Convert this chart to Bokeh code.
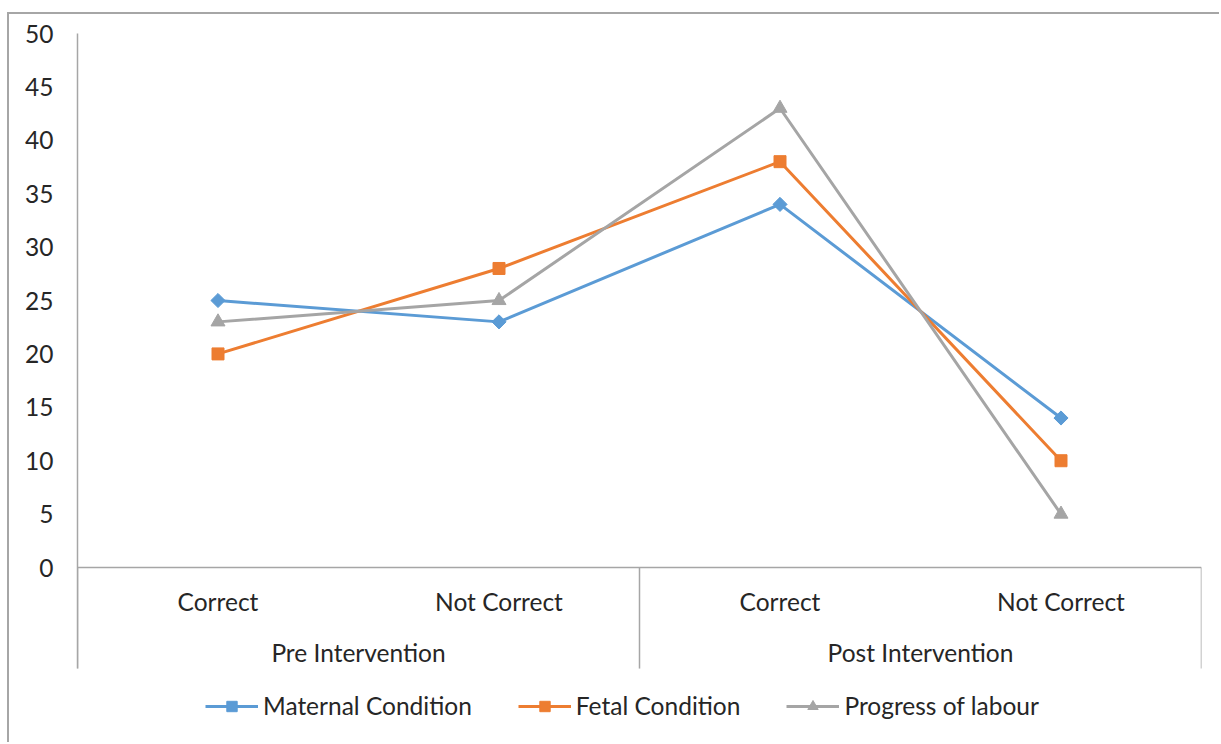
from bokeh.plotting import figure
from bokeh.models import (FactorRange, Range1d, FixedTicker, Legend, LegendItem,
                          CategoricalAxis)
from bokeh.embed import file_html
from bokeh.resources import INLINE

# ---- data ----
groups = ["Pre Intervention", "Post Intervention"]
answers = ["Correct", "Not Correct"]
maternal = [25, 23, 34, 14]
fetal = [20, 28, 38, 10]
progress = [23, 25, 43, 5]
y_ticks = [0, 5, 10, 15, 20, 25, 30, 35, 40, 45, 50]
series_names = ["Maternal Condition", "Fetal Condition", "Progress of labour"]

factors = [(g, a) for g in groups for a in answers]

FONT = "Lato"
FS = "24.5px"
TEXT = "#262626"
AXIS = "#A6A6A6"
COLORS = ["#5B9BD5", "#ED7D31", "#A5A5A5"]

# depth of the category-label area below zero (in data units)
label_depth = 9.46

p = figure(
    x_range=FactorRange(*factors, factor_padding=0, group_padding=0, range_padding=0),
    y_range=Range1d(-16.57, 50),
    width=1212, height=730,
    output_backend="svg", toolbar_location=None,
    x_axis_location=None,
    min_border_left=68, min_border_right=20, min_border_top=19, min_border_bottom=0,
)
p.styles = {"border-left": "2px solid #A6A6A6", "border-top": "2px solid #A6A6A6",
            "margin-left": "7px", "margin-top": "12px"}
p.background_fill_color = "white"
p.border_fill_color = "white"
p.outline_line_color = None
for g in p.grid:
    g.grid_line_color = None
    g.visible = False

# y axis
yax = p.yaxis[0]
yax.ticker = FixedTicker(ticks=y_ticks)
yax.bounds = (-label_depth, 50)
yax.axis_line_color = AXIS
yax.axis_line_width = 1.5
yax.major_tick_line_color = None
yax.minor_tick_line_color = None
yax.major_tick_out = 0
yax.major_tick_in = 0
yax.major_label_standoff = 24
yax.major_label_text_font = FONT
yax.major_label_text_font_size = FS
yax.major_label_text_color = TEXT

# x axis (nested categories) sitting at y = 0
xax = CategoricalAxis(fixed_location=0)
xax.axis_line_color = AXIS
xax.axis_line_width = 1.5
xax.major_tick_line_color = None
xax.minor_tick_line_color = None
xax.major_tick_out = 0
xax.major_tick_in = 0
xax.major_label_standoff = 19
xax.major_label_text_font = FONT
xax.major_label_text_font_size = FS
xax.major_label_text_color = TEXT
xax.group_text_font = FONT
xax.group_text_font_size = FS
xax.group_text_color = TEXT
xax.group_text_font_style = "normal"
xax.separator_line_color = None
p.add_layout(xax, "below")

# category separators below the axis
sep_x = [0, 2, 4]
p.segment(x0=sep_x, y0=[0] * 3, x1=sep_x, y1=[-label_depth] * 3,
          line_color=AXIS, line_width=1.5)

markers = [dict(marker="square", angle=0.785398, size=10),
           dict(marker="square", angle=0, size=12),
           dict(marker="triangle", angle=0, size=14)]
items = []
for name, vals, col, mk in zip(series_names, [maternal, fetal, progress], COLORS, markers):
    ln = p.line(x=factors, y=vals, line_color=col, line_width=3)
    sc = p.scatter(x=factors, y=vals, marker=mk["marker"], angle=mk["angle"], size=mk["size"],
                   fill_color=col, line_color=col)
    items.append(LegendItem(label=name, renderers=[ln, sc]))

legend = Legend(items=items, orientation="horizontal", location=(128, 24),
                glyph_width=53, glyph_height=26, label_height=26, label_standoff=5,
                spacing=46, padding=0, margin=0, border_line_color=None,
                background_fill_alpha=0,
                label_text_font=FONT, label_text_font_size=FS, label_text_color=TEXT)
p.add_layout(legend, "center")

open("out.html", "w").write(file_html(p, INLINE))
